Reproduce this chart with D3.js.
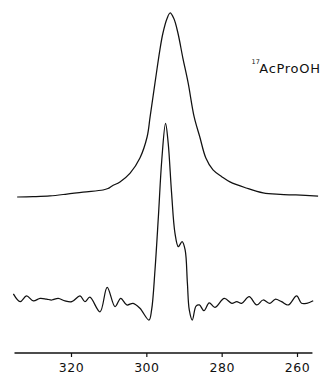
<!DOCTYPE html>
<html><head><meta charset="utf-8">
<script src="https://cdn.jsdelivr.net/npm/d3@7"></script>
<style>html,body{margin:0;padding:0;background:#fff;}svg{display:block;}</style>
</head><body>
<script>
// Chemical shift (ppm) and intensity for the upper (experimental) spectrum
const topShift = [334.3,330.1,325.6,321.1,316.8,311.5,310.2,309.1,307.0,304.3,301.7,299.8,299.0,297.7,296.4,295.6,294.5,293.7,292.7,291.6,290.3,288.9,287.3,285.8,284.2,282.3,279.9,277.8,273.5,269.0,264.5,260.3,254.4];
const topValue = [0,0.2,0.6,1.6,2.7,3.8,4.6,6,8.2,13,21.2,32.6,43.5,62,80,89,97,100,97,89,75.5,62,43.5,32.6,21.2,14.7,10.9,8.2,4.9,2.2,1.4,1.1,0.5];
// Lower (resolution-enhanced) spectrum
const botShift = [335.3,333.5,331.8,330.0,328.2,326.5,325.1,323.4,321.6,319.8,317.6,316.3,315.0,312.3,310.4,308.3,306.8,305.2,303.5,301.7,299.3,298.6,297.7,296.8,295.9,294.9,294.2,293.3,292.4,291.5,290.5,289.7,289.1,288.6,287.8,286.8,285.9,284.7,283.3,281.8,279.3,277.3,276.0,274.7,272.7,270.7,269.0,267.2,265.8,264.1,262.3,260.1,258.8,257.4,255.7];
const botValue = [3.3,-0.9,2.2,-0.5,0.9,0.5,0,0.9,-0.5,-0.9,2.2,-0.9,1.5,-6.4,6.9,-3.6,0.9,-2.7,-1.8,-4.5,-10.9,-5.4,16.3,45.3,76.1,96,85.3,58.2,36.4,29,31.7,27.2,9.2,-5.4,-10.9,-3.3,-2.7,-5.8,-1.5,-4,0.9,-1.8,-0.9,-1.8,1.8,-2.7,0,-1.8,0.4,-0.9,-2.7,2.2,-1.8,-1.8,-0.4];
const tickValues = [320,300,280,260];
const tickLabels = ["320","300","280","260"];
const label = "AcProOH", labelSup = "17";

const W = 326, H = 379;
const svg = d3.select("body").append("svg").attr("width", W).attr("height", H);

const x = d3.scaleLinear().domain([320, 260]).range([71, 297]);
const y = d3.scaleLinear().domain([0, 100]).range([0, -184]);

const line = d3.line().x(d => x(d[0])).y(d => y(d[1])).curve(d3.curveCatmullRom.alpha(0.5));

function trace(shifts, vals, base) {
  svg.append("g").attr("transform", `translate(0,${base})`)
    .append("path")
    .attr("d", line(shifts.map((s, i) => [s, vals[i]])))
    .attr("fill", "none").attr("stroke", "#111").attr("stroke-width", 1.25)
    .attr("stroke-linejoin", "round");
}
trace(topShift, topValue, 197);
trace(botShift, botValue, 300);

// axis
const axis = d3.axisBottom(x).tickValues(tickValues).tickFormat((d, i) => tickLabels[i]).tickSize(4).tickSizeOuter(0).tickPadding(6);
const ag = svg.append("g").attr("transform", "translate(0,353)").call(axis);
ag.select(".domain").remove();
ag.append("path").attr("d", `M${x(335.0)},0H${x(255.9)}`).attr("stroke", "#111").attr("stroke-width", 1.6).attr("fill", "none");
ag.selectAll(".tick line").attr("stroke", "#111").attr("stroke-width", 1.2);
ag.selectAll(".tick text").attr("fill", "#111").attr("font-family", "DejaVu Sans, sans-serif").attr("font-size", 12.5).attr("letter-spacing", "0.5px");

// label (isotope superscript + compound name in one text element)
const t = svg.append("text").attr("x", 251.5).attr("y", 72.5)
  .attr("font-family", "DejaVu Sans, sans-serif").attr("fill", "#111");
t.append("tspan").attr("font-size", 6.5).attr("dy", -9).text(labelSup);
t.append("tspan").attr("font-size", 13).attr("dy", 9).attr("dx", -0.5)
  .attr("letter-spacing", "0.7px").text(label);
</script>
</body></html>
